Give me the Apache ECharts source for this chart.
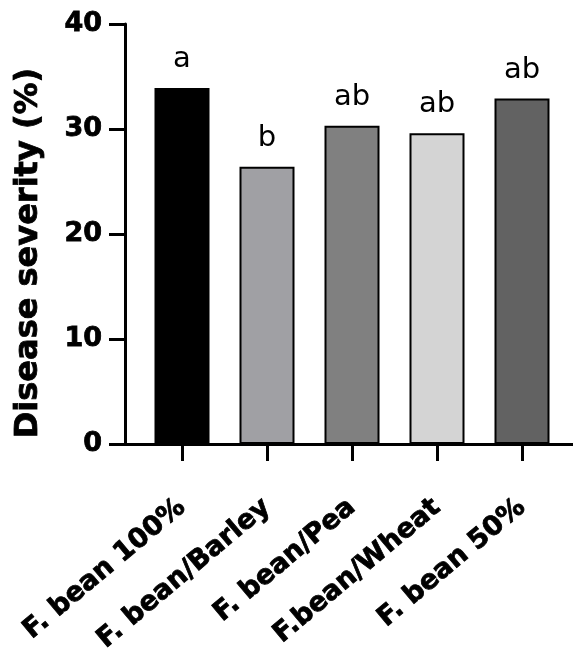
<!DOCTYPE html>
<html>
<head>
<meta charset="utf-8">
<script src="https://cdn.jsdelivr.net/npm/echarts@6/dist/echarts.min.js"></script>
<style>html,body{margin:0;padding:0;background:#fff;}#c{width:573px;height:651px;}</style>
</head>
<body>
<div id="c"></div>
<script>
const categories = ['F. bean 100%', 'F. bean/Barley', 'F. bean/Pea', 'F.bean/Wheat', 'F. bean 50%'];
const severity = [33.9, 26.4, 30.3, 29.6, 32.9];
const letters = ['a', 'b', 'ab', 'ab', 'ab'];
const barColors = ['#000000', '#a0a0a4', '#808080', '#d4d4d4', '#626262'];
const yTicks = { min: 0, max: 40, interval: 10 };

const font = '"DejaVu Sans", "Liberation Sans", Arial, sans-serif';
const heavy = { fontWeight: 'bold', color: '#000', fontFamily: font, textBorderColor: '#000', textBorderWidth: 0.8 };
const chart = echarts.init(document.getElementById('c'), null, { renderer: 'canvas' });
chart.setOption({
  animation: false,
  backgroundColor: '#fff',
  grid: [
    { left: 139.5, right: 8.5, top: 24, bottom: 207, outerBoundsMode: 'none', containLabel: false },
    { left: 125, right: 0, top: 24, bottom: 207, outerBoundsMode: 'none', containLabel: false }
  ],
  xAxis: [
    {
      type: 'category', gridIndex: 0, data: categories,
      axisLine: { show: false },
      axisTick: { show: true, alignWithLabel: true, length: 17, lineStyle: { color: '#000', width: 3 } },
      axisLabel: Object.assign({ rotate: 40, margin: 60, fontSize: 27, interval: 0 }, heavy)
    },
    {
      type: 'value', gridIndex: 1, min: 0, max: 1,
      axisLine: { show: true, lineStyle: { color: '#000', width: 3 } },
      axisTick: { show: false }, axisLabel: { show: false }, splitLine: { show: false }
    }
  ],
  yAxis: [
    {
      type: 'value', gridIndex: 0, min: yTicks.min, max: yTicks.max, interval: yTicks.interval,
      offset: 14.5,
      name: 'Disease severity (%)', nameLocation: 'middle', nameGap: 80,
      nameTextStyle: Object.assign({ fontSize: 32, padding: [0, 38, 0, 0] }, heavy),
      axisLine: { show: true, lineStyle: { color: '#000', width: 3 } },
      axisTick: { show: true, length: 16, lineStyle: { color: '#000', width: 3 } },
      axisLabel: Object.assign({ margin: 23, fontSize: 27 }, heavy),
      splitLine: { show: false }
    },
    {
      type: 'value', gridIndex: 1, show: false
    }
  ],
  series: [{
    type: 'bar', xAxisIndex: 0, yAxisIndex: 0,
    barWidth: 55,
    data: severity.map((v, i) => ({
      value: v,
      itemStyle: { color: barColors[i], borderColor: '#000', borderWidth: 2 },
      label: { show: true, position: 'top', distance: 14, formatter: letters[i], fontSize: 29, color: '#000', fontFamily: font }
    }))
  }]
});
</script>
</body>
</html>
